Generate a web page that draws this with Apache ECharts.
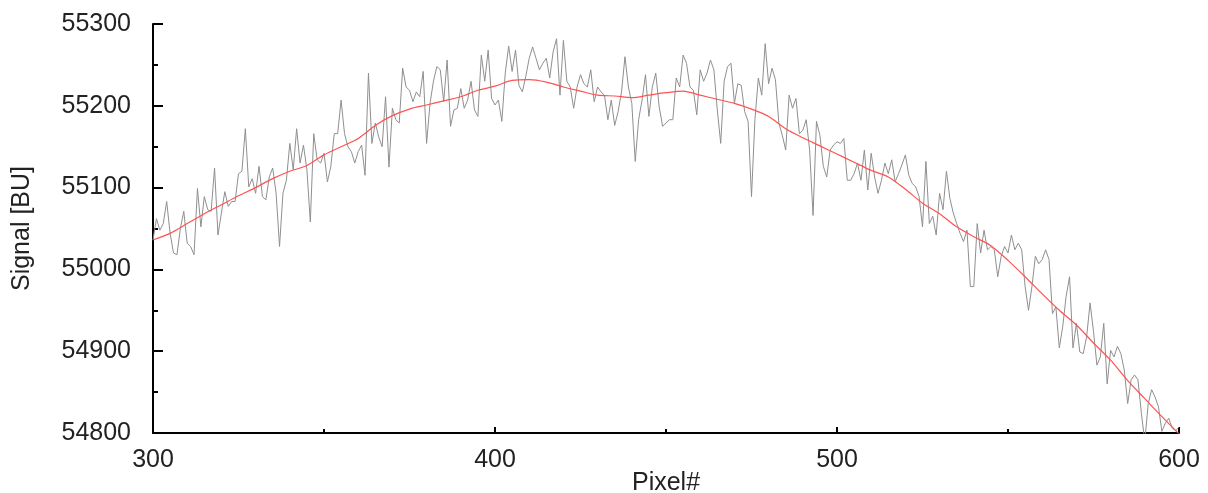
<!DOCTYPE html>
<html>
<head>
<meta charset="utf-8">
<script src="https://cdn.jsdelivr.net/npm/echarts@6/dist/echarts.min.js"></script>
<style>
html,body{margin:0;padding:0;background:#fff;}
#chart{width:1208px;height:493px;}
</style>
</head>
<body>
<div id="chart"></div>
<script>
// Raw signal, one value per pixel starting at firstPixel
var firstPixel = 300;
var rawSignal = [
55036,55062,55048,55056,55083,55044,55020,55018,55050,55071,
55032,55028,55018,55099,55052,55089,55073,55071,55124,55042,
55069,55095,55077,55083,55083,55117,55120,55172,55101,55111,
55093,55126,55089,55085,55113,55124,55093,55028,55093,55109,
55154,55122,55172,55130,55152,55122,55058,55166,55134,55130,
55142,55107,55126,55166,55166,55207,55166,55150,55144,55130,
55144,55152,55115,55240,55154,55179,55162,55150,55211,55125,
55197,55183,55179,55246,55223,55219,55205,55217,55211,55242,
55154,55203,55230,55248,55244,55205,55256,55175,55195,55197,
55221,55197,55207,55230,55195,55187,55262,55230,55268,55209,
55201,55207,55181,55240,55273,55242,55268,55225,55217,55236,
55258,55272,55258,55244,55252,55258,55234,55266,55282,55213,
55280,55230,55223,55197,55223,55238,55227,55223,55244,55205,
55223,55217,55213,55183,55207,55176,55193,55217,55260,55223,
55203,55132,55183,55207,55238,55187,55223,55240,55199,55175,
55179,55183,55183,55234,55223,55262,55252,55223,55219,55189,
55244,55230,55240,55256,55244,55195,55154,55230,55248,55252,
55203,55227,55225,55193,55181,55089,55183,55234,55213,55276,
55227,55246,55232,55179,55164,55146,55213,55197,55209,55166,
55170,55183,55146,55066,55181,55164,55126,55113,55146,55152,
55156,55154,55160,55109,55109,55117,55130,55109,55146,55097,
55142,55113,55093,55109,55130,55117,55134,55107,55117,55128,
55140,55115,55105,55101,55089,55052,55132,55056,55065,55042,
55093,55073,55120,55087,55069,55056,55044,55034,55048,54979,
54979,55056,55020,55048,55024,55028,55024,54991,55016,55028,
55020,55042,55024,55032,55024,54979,54950,54979,55016,55007,
55012,55024,55012,54946,54954,54904,54930,54967,54991,54904,
54934,54899,54897,54918,54959,54924,54883,54893,54934,54860,
54901,54893,54906,54897,54877,54836,54865,54871,54865,54824,
54790,54836,54853,54844,54832,54802,54812,54818,54806,54803,
54807
];
// Smoothed signal (red)
var smoothPixels = [300,305,310,315,320,325,330,335,340,345,350,355,360,365,370,375,380,385,390,395,
400,405,410,415,420,425,430,435,440,445,450,455,460,465,470,475,480,485,490,495,
500,505,510,515,520,525,530,535,540,545,550,555,560,565,570,575,580,585,590,595,600];
var smoothSignal = [55036,55044,55056,55068,55079,55090,55100,55111,55120,55127,55140,55150,55160,55176,55188,55196,55201,55206,55211,55219,
55224,55231,55232,55229,55223,55218,55213,55212,55210,55213,55216,55218,55213,55208,55203,55196,55187,55172,55161,55151,
55141,55131,55121,55113,55098,55081,55068,55052,55040,55029,55011,54991,54970,54950,54932,54910,54889,54864,54842,54820,54799];
var xTicks = [300, 400, 500, 600];
var yTicks = [54800, 54900, 55000, 55100, 55200, 55300];

var rawData = rawSignal.map(function (v, i) { return [firstPixel + i, v]; });
var smoothData = smoothSignal.map(function (v, i) { return [smoothPixels[i], v]; });

var chart = echarts.init(document.getElementById('chart'), null, {renderer: 'canvas'});
var font = 'Liberation Sans, Arial, Helvetica, sans-serif';
chart.setOption({
  animation: false,
  backgroundColor: '#ffffff',
  grid: {left: 153, right: 29, top: 24, bottom: 60, containLabel: false, outerBoundsMode: 'none'},
  xAxis: {
    type: 'value',
    min: xTicks[0], max: xTicks[xTicks.length - 1], interval: 100,
    name: 'Pixel#', nameLocation: 'middle', nameGap: 38, nameMoveOverlap: false,
    nameTextStyle: {fontFamily: font, fontSize: 25, color: '#222'},
    axisLine: {show: true, onZero: false, lineStyle: {color: '#000', width: 2}},
    axisTick: {show: true, inside: true, length: 6, lineStyle: {color: '#000', width: 2}},
    minorTick: {show: true, splitNumber: 2, length: 4, lineStyle: {color: '#000', width: 2}},
    splitLine: {show: false},
    axisLabel: {fontFamily: font, fontSize: 25, color: '#222', margin: 15,
      formatter: function (v) { return String(v); }}
  },
  yAxis: {
    type: 'value',
    min: yTicks[0], max: yTicks[yTicks.length - 1], interval: 100,
    name: 'Signal [BU]', nameLocation: 'middle', nameGap: 118, nameMoveOverlap: false,
    nameTextStyle: {fontFamily: font, fontSize: 25, color: '#222'},
    axisLine: {show: true, onZero: false, lineStyle: {color: '#000', width: 2}},
    axisTick: {show: true, inside: true, length: 10, lineStyle: {color: '#000', width: 2}},
    minorTick: {show: true, splitNumber: 2, length: 5, lineStyle: {color: '#000', width: 2}},
    splitLine: {show: false},
    axisLabel: {fontFamily: font, fontSize: 25, color: '#222', margin: 22,
      formatter: function (v) { return String(v); }}
  },
  series: [
    {
      type: 'line', data: rawData, showSymbol: false, clip: true,
      lineStyle: {color: '#8f8f8f', width: 1}, z: 2
    },
    {
      type: 'line', data: smoothData, showSymbol: false, clip: true, smooth: 0.3,
      lineStyle: {color: '#ff5252', width: 1.2}, z: 3
    }
  ]
});
</script>
</body>
</html>
